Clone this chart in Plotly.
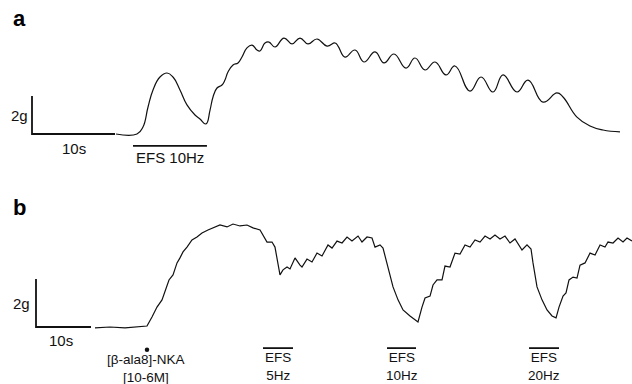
import plotly.graph_objects as go

# ---------------- Panel a : time (s) and tension (g) ----------------
a_time = [10.12, 12.65, 13.37, 13.98, 14.58, 15.42, 16.27, 16.99, 17.83, 18.67, 19.64, 20.24, 20.96,
          21.45, 21.81, 22.29, 22.89, 23.25, 23.61, 24.22, 24.82, 25.30, 25.90, 26.51, 27.11, 27.47,
          28.07, 28.55, 29.28, 30.36, 31.33, 32.29, 33.25, 34.34, 35.54, 36.51, 36.87, 37.71, 38.92,
          40.00, 41.33, 42.41, 43.61, 45.06, 46.14, 47.35, 48.55, 49.88, 50.96, 52.77, 54.10, 55.54,
          56.75, 58.43, 59.76, 61.57, 63.25, 63.98, 65.66, 67.23, 68.80, 70.84]
a_force = [0.00, 0.00, 0.37, 1.42, 2.32, 3.00, 3.21, 3.00, 2.32, 1.53, 1.00, 0.79, 0.53,
           1.26, 1.95, 2.42, 2.58, 2.84, 3.26, 3.63, 3.74, 4.05, 4.53, 4.68, 4.42, 4.37,
           4.79, 4.84, 4.58, 5.05, 4.74, 5.05, 4.74, 5.00, 4.63, 4.79, 4.63, 4.05, 4.42,
           3.79, 4.32, 3.74, 4.21, 3.47, 4.00, 3.37, 3.79, 3.11, 3.58, 2.26, 3.00, 2.21,
           3.11, 2.21, 2.84, 1.68, 2.16, 1.95, 0.89, 0.42, 0.21, 0.11]
a_efs_start = [12.17]
a_efs_end = [21.08]
a_efs_labels = ["EFS 10Hz"]

# ---------------- Panel b : time (s) and tension (g) ----------------
b_time = [10.73, 13.45, 16.18, 18.36, 19.45, 20.18, 21.09, 22.00, 22.91, 23.82, 24.18, 24.91, 25.64,
          26.18, 26.73, 27.45, 28.36, 29.27, 30.18, 31.27, 32.18, 33.45, 34.73, 35.82, 37.09, 38.36,
          39.45, 40.73, 42.00, 42.91, 43.45, 44.00, 44.36, 44.91, 45.64, 46.18, 47.09, 48.00, 48.36,
          49.27, 50.18, 51.09, 52.00, 53.09, 53.82, 54.73, 55.64, 56.55, 57.45, 58.55, 59.27, 60.18,
          61.09, 61.64, 62.55, 63.09, 64.00, 64.91, 65.82, 66.73, 68.00, 69.45, 70.18, 70.73, 71.64,
          72.18, 72.91, 73.82, 74.36, 75.27, 76.18, 77.09, 78.00, 78.91, 79.82, 80.73, 81.64, 82.55,
          83.45, 84.36, 85.27, 86.18, 87.09, 88.36, 89.27, 90.00, 90.36, 91.09, 92.00, 92.91, 93.82,
          94.55, 95.09, 95.82, 96.36, 96.91, 97.64, 98.36, 98.91, 99.82, 100.73, 101.64, 102.55,
          103.45, 104.00, 104.91, 105.82, 106.73, 107.45, 108.36]
b_force = [-0.04, 0.00, -0.04, 0.00, 0.04, 0.04, 0.42, 0.83, 1.13, 1.67, 1.96, 2.17, 2.67,
           2.88, 3.13, 3.33, 3.63, 3.75, 3.92, 4.04, 4.13, 4.25, 4.17, 4.29, 4.21, 4.25,
           4.13, 4.04, 3.54, 3.54, 3.33, 2.67, 2.17, 2.38, 2.50, 2.42, 2.88, 2.58, 2.50,
           2.83, 2.71, 3.08, 2.96, 3.42, 3.29, 3.58, 3.50, 3.75, 3.58, 3.79, 3.54, 3.75,
           3.71, 3.33, 3.42, 3.29, 2.50, 1.67, 1.13, 0.71, 0.46, 0.21, 0.83, 1.21, 1.29,
           1.75, 1.96, 1.96, 2.54, 2.50, 3.08, 3.04, 3.42, 3.33, 3.63, 3.54, 3.79, 3.67,
           3.83, 3.67, 3.79, 3.50, 3.67, 3.21, 3.42, 3.25, 2.67, 1.67, 1.13, 0.71, 0.46,
           0.38, 0.83, 1.29, 1.42, 1.96, 2.08, 2.04, 2.58, 2.67, 3.08, 3.00, 3.42,
           3.33, 3.54, 3.50, 3.71, 3.54, 3.71, 3.58]
b_efs_start = [41.27, 63.82, 89.64]
b_efs_end = [46.73, 69.09, 95.09]
b_efs_labels = ["5Hz", "10Hz", "20Hz"]
b_drug_time = [20.18]
b_drug_label = ["[β-ala8]-NKA", "[10-6M]"]

# scale bars
scale_time = 10   # s
scale_force = 2   # g

FONT = "Liberation Sans, Arial, Helvetica, sans-serif"
INK = "#111111"

fig = go.Figure()

# traces
fig.add_trace(go.Scatter(x=a_time, y=a_force, mode="lines", xaxis="x", yaxis="y",
                         line=dict(color=INK, width=1.2, shape="spline", smoothing=1.3),
                         hoverinfo="skip", showlegend=False))
fig.add_trace(go.Scatter(x=b_time, y=b_force, mode="lines", xaxis="x2", yaxis="y2",
                         line=dict(color=INK, width=1.2),
                         hoverinfo="skip", showlegend=False))

# scale bars
for xa, ya in (("x", "y"), ("x2", "y2")):
    fig.add_trace(go.Scatter(x=[0, 0, scale_time], y=[scale_force, 0, 0], mode="lines",
                             xaxis=xa, yaxis=ya, line=dict(color=INK, width=1.8),
                             hoverinfo="skip", showlegend=False))

annotations = []

# panel a stimulus bar
for s, e, lab in zip(a_efs_start, a_efs_end, a_efs_labels):
    fig.add_trace(go.Scatter(x=[s, e], y=[-0.63, -0.63], mode="lines", xaxis="x", yaxis="y",
                             line=dict(color=INK, width=1.8), hoverinfo="skip", showlegend=False))
    annotations.append(dict(x=(s + e) / 2, y=-1.26, xref="x", yref="y", text=lab,
                            showarrow=False, xanchor="center", yanchor="middle"))

# panel b stimulus bars (two-line labels in one text block)
for s, e, lab in zip(b_efs_start, b_efs_end, b_efs_labels):
    fig.add_trace(go.Scatter(x=[s, e], y=[-0.88, -0.88], mode="lines", xaxis="x2", yaxis="y2",
                             line=dict(color=INK, width=1.8), hoverinfo="skip", showlegend=False))
    annotations.append(dict(x=(s + e) / 2, y=-1.64, xref="x2", yref="y2", text="EFS<br>" + lab,
                            showarrow=False, xanchor="center", yanchor="middle",
                            font=dict(size=13.5)))

# drug application marker
fig.add_trace(go.Scatter(x=b_drug_time, y=[-0.95], mode="markers", xaxis="x2", yaxis="y2",
                         marker=dict(color=INK, size=4.5), hoverinfo="skip", showlegend=False))
annotations.append(dict(x=b_drug_time[0] - 0.2, y=-1.74, xref="x2", yref="y2",
                        text="<br>".join(b_drug_label),
                        showarrow=False, xanchor="center", yanchor="middle",
                        font=dict(size=13.5)))

# scale bar labels
annotations.append(dict(x=-0.25, y=1.0, xref="x", yref="y", text="2g", showarrow=False,
                        xanchor="right", yanchor="middle"))
annotations.append(dict(x=5.1, y=-0.74, xref="x", yref="y", text="10s", showarrow=False,
                        xanchor="center", yanchor="middle"))
annotations.append(dict(x=-0.7, y=1.0, xref="x2", yref="y2", text="2g", showarrow=False,
                        xanchor="right", yanchor="middle"))
annotations.append(dict(x=4.6, y=-0.58, xref="x2", yref="y2", text="10s", showarrow=False,
                        xanchor="center", yanchor="middle"))

# panel letters
annotations.append(dict(x=19 / 632, y=1 - 19 / 384, xref="paper", yref="paper", text="<b>a</b>",
                        showarrow=False, xanchor="center", yanchor="middle",
                        font=dict(size=22, family=FONT, color="#000")))
annotations.append(dict(x=19 / 632, y=1 - 207 / 384, xref="paper", yref="paper", text="<b>b</b>",
                        showarrow=False, xanchor="center", yanchor="middle",
                        font=dict(size=22, family=FONT, color="#000")))

axis_off = dict(visible=False, showgrid=False, zeroline=False, fixedrange=True)

fig.update_layout(
    width=632, height=384, autosize=False,
    margin=dict(l=0, r=0, t=0, b=0),
    paper_bgcolor="white", plot_bgcolor="white",
    font=dict(family=FONT, size=15, color="#111"),
    xaxis=dict(domain=[0, 1], range=[-3.855, 72.29], anchor="y", **axis_off),
    yaxis=dict(domain=[0.5, 1], range=[-3.053, 7.053], anchor="x", **axis_off),
    xaxis2=dict(domain=[0, 1], range=[-6.545, 108.36], anchor="y2", **axis_off),
    yaxis2=dict(domain=[0, 0.5], range=[-2.375, 5.625], anchor="x2", **axis_off),
    annotations=annotations,
    showlegend=False,
)

fig.write_html("out.html", config={"displayModeBar": False},
               post_script="document.body.style.margin='0';document.body.style.overflow='hidden';")
